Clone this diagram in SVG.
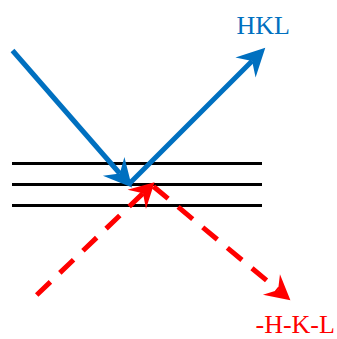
<svg xmlns="http://www.w3.org/2000/svg" width="337" height="339" viewBox="0 0 337 339">
<style>
.plane{stroke:#000;stroke-width:3;fill:none}
.blue{stroke:#0070C0;stroke-width:5;fill:none}
.red{stroke:#FF0000;stroke-width:5;fill:none;stroke-dasharray:19 13}
.lbl{font-family:"Liberation Serif","Times New Roman",serif;font-size:26px}
</style>
<defs>
<marker id="ab" markerUnits="userSpaceOnUse" orient="auto" markerWidth="40" markerHeight="40" refX="0" refY="0" viewBox="-10 -15 30 30" overflow="visible">
<path d="M14,0 L-7,-10.7 L0,0 L-7,10.7 Z" fill="#0070C0"/>
</marker>
<marker id="ar" markerUnits="userSpaceOnUse" orient="auto" markerWidth="40" markerHeight="40" refX="0" refY="0" viewBox="-10 -15 30 30" overflow="visible">
<path d="M12,0 L-6.5,-10 L0,0 L-6.5,10 Z" fill="#FF0000"/>
</marker>
</defs>
<g id="planes">
<line class="plane" x1="12" y1="163.5" x2="262" y2="163.5"/>
<line class="plane" x1="12" y1="184.5" x2="262" y2="184.5"/>
<line class="plane" x1="12" y1="205.5" x2="262" y2="205.5"/>
</g>
<g id="connectors">
<line class="blue" x1="12.5" y1="50.5" x2="119.8" y2="173.5" marker-end="url(#ab)"/>
<line class="blue" x1="129" y1="184" x2="252.1" y2="60.9" marker-end="url(#ab)"/>
<line class="red" x1="36.7" y1="295" x2="143" y2="193.3" marker-end="url(#ar)"/>
<line class="red" x1="153.5" y1="186.5" x2="278.1" y2="290" marker-end="url(#ar)"/>
</g>
<g id="label-hkl">
<text class="lbl" x="236.5" y="34" fill="#0070C0">HKL</text>
</g>
<g id="label-neg-hkl">
<text class="lbl" x="255.5" y="333" fill="#FF0000">-H-K-L</text>
</g>
</svg>
